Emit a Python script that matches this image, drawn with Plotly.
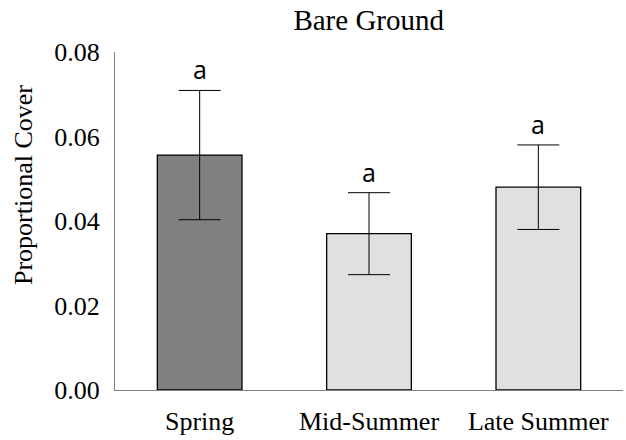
import plotly.graph_objects as go

categories = ["Spring", "Mid-Summer", "Late Summer"]
means = [0.0556, 0.0370, 0.0480]
errors = [0.0153, 0.0097, 0.0100]
letters = ["a", "a", "a"]
colors = ["#808080", "#e0e0e0", "#e0e0e0"]
y_ticks = [0.00, 0.02, 0.04, 0.06, 0.08]

serif = "Liberation Serif, Times New Roman, serif"

fig = go.Figure()
fig.add_trace(go.Bar(
    x=categories, y=means,
    marker=dict(color=colors, line=dict(color="#000000", width=1.3)),
    error_y=dict(type="data", array=errors, visible=True, color="#000000",
                 thickness=1, width=21),
    showlegend=False,
))

for c, m, e, l in zip(categories, means, errors, letters):
    fig.add_annotation(x=c, y=m + e, text=l, showarrow=False, yanchor="bottom",
                       yshift=2, font=dict(family="Open Sans, Liberation Sans, sans-serif",
                                           size=25, color="#000000"))

# y-axis title placed as annotation (it sits above the plot's vertical centre)
fig.add_annotation(xref="paper", yref="paper", x=-0.18, y=0.605, text="Proportional Cover",
                   textangle=-90, showarrow=False, xanchor="center", yanchor="middle",
                   font=dict(family=serif, size=26, color="#000000"))

fig.update_layout(
    width=626, height=440,
    margin=dict(l=115, r=3, t=52, b=50),
    paper_bgcolor="white", plot_bgcolor="white",
    bargap=0.5,
    title=dict(text="Bare Ground", x=0.589, xanchor="center", y=0.955, yanchor="middle",
               font=dict(family=serif, size=29, color="#000000")),
    font=dict(family=serif, color="#000000"),
)
fig.update_yaxes(
    range=[0, 0.08], tickvals=y_ticks, ticktext=[f"{v:.2f}" for v in y_ticks],
    showgrid=False, zeroline=False, showline=True, linecolor="#808080", linewidth=1.3,
    ticks="", ticklabelstandoff=9, tickfont=dict(family=serif, size=26),
)
fig.update_xaxes(
    showgrid=False, zeroline=False, showline=True, linecolor="#808080", linewidth=1.3,
    ticks="", ticklabelstandoff=8, tickfont=dict(family=serif, size=26),
)

fig.write_html("out.html")
